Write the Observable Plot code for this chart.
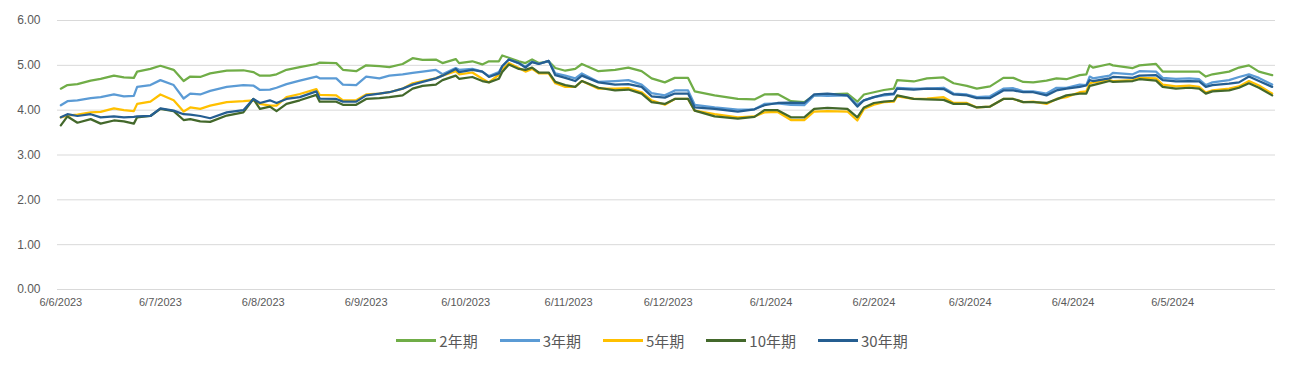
<!DOCTYPE html>
<html>
<head>
<meta charset="utf-8">
<script src="https://cdn.jsdelivr.net/npm/d3@7"></script>
<script src="https://cdn.jsdelivr.net/npm/@observablehq/plot@0.6"></script>
<style>
  html, body { margin: 0; padding: 0; background: #ffffff; }
  #chart svg { display: block; }
  #legend { display: flex; justify-content: center; align-items: center; gap: 22px;
    margin-top: 15px; height: 20px; margin-left: 6px;
    font-family: "Noto Sans CJK SC", "Noto Sans", sans-serif; font-size: 15px; color: #595959; }
  .item { display: flex; align-items: center; }
  .sw { display: inline-block; width: 40px; height: 3px; margin-right: 3px; }
</style>
</head>
<body>
<div id="chart"></div>
<div id="legend"></div>
<script>
const seriesNames = ["2年期", "3年期", "5年期", "10年期", "30年期"];
const seriesColors = ["#70ad47", "#5b9bd5", "#ffc000", "#43682b", "#255e91"];

const dates = [
  "2023-06-06","2023-06-08","2023-06-11","2023-06-15","2023-06-18","2023-06-22","2023-06-25","2023-06-28","2023-06-29",
  "2023-07-03","2023-07-06","2023-07-10","2023-07-13","2023-07-15","2023-07-18","2023-07-21","2023-07-26","2023-07-31",
  "2023-08-03","2023-08-05","2023-08-08","2023-08-10","2023-08-13","2023-08-17","2023-08-22","2023-08-23","2023-08-28","2023-08-30",
  "2023-09-03","2023-09-06","2023-09-10","2023-09-13","2023-09-17","2023-09-20","2023-09-23","2023-09-27","2023-09-29",
  "2023-10-03","2023-10-04","2023-10-08","2023-10-11","2023-10-13","2023-10-16","2023-10-17","2023-10-19","2023-10-22","2023-10-24","2023-10-26","2023-10-28","2023-10-31",
  "2023-11-02","2023-11-05","2023-11-08","2023-11-10","2023-11-15","2023-11-20","2023-11-24","2023-11-28",
  "2023-12-01","2023-12-05","2023-12-08","2023-12-12","2023-12-14","2023-12-20","2023-12-27",
  "2024-01-01","2024-01-04","2024-01-08","2024-01-12","2024-01-16","2024-01-19","2024-01-23","2024-01-29",
  "2024-02-01","2024-02-03","2024-02-06","2024-02-09","2024-02-12","2024-02-13","2024-02-18","2024-02-22","2024-02-27",
  "2024-03-01","2024-03-05","2024-03-08","2024-03-12","2024-03-16","2024-03-19","2024-03-22","2024-03-25","2024-03-29",
  "2024-04-01","2024-04-04","2024-04-08","2024-04-10","2024-04-11","2024-04-12","2024-04-17","2024-04-18","2024-04-24","2024-04-26",
  "2024-05-01","2024-05-03","2024-05-07","2024-05-11","2024-05-14","2024-05-16","2024-05-18","2024-05-23","2024-05-26","2024-05-29",
  "2024-06-01","2024-06-05"
];

const y2 = [
  4.48,4.56,4.58,4.66,4.70,4.77,4.73,4.72,4.86,
  4.92,4.99,4.90,4.65,4.75,4.74,4.82,4.88,4.89,
  4.85,4.77,4.77,4.80,4.90,4.96,5.03,5.06,5.05,4.90,
  4.87,5.00,4.98,4.96,5.03,5.16,5.12,5.13,5.05,
  5.14,5.05,5.09,5.02,5.09,5.09,5.22,5.17,5.09,5.05,5.13,5.05,5.09,
  4.94,4.88,4.92,5.03,4.87,4.90,4.95,4.87,
  4.71,4.62,4.72,4.72,4.42,4.33,4.25,
  4.24,4.35,4.36,4.20,4.18,4.33,4.35,4.37,
  4.19,4.35,4.40,4.45,4.48,4.67,4.64,4.71,4.73,
  4.60,4.54,4.48,4.53,4.72,4.72,4.63,4.62,4.66,
  4.71,4.69,4.78,4.80,5.00,4.95,5.03,5.00,4.94,5.00,
  5.03,4.86,4.86,4.86,4.86,4.75,4.80,4.86,4.95,5.00,
  4.86,4.78
];
const y3 = [
  4.11,4.20,4.22,4.27,4.29,4.35,4.31,4.32,4.52,
  4.56,4.67,4.56,4.26,4.37,4.35,4.43,4.52,4.56,
  4.55,4.45,4.46,4.50,4.58,4.66,4.75,4.71,4.71,4.57,
  4.56,4.75,4.71,4.77,4.80,4.83,4.86,4.90,4.80,
  4.94,4.90,4.92,4.86,4.76,4.85,4.98,5.13,5.05,4.97,5.08,5.03,5.10,
  4.82,4.77,4.71,4.82,4.63,4.65,4.67,4.57,
  4.38,4.33,4.44,4.44,4.12,4.06,4.01,
  4.02,4.14,4.15,4.12,4.11,4.33,4.32,4.33,
  4.12,4.22,4.29,4.33,4.35,4.50,4.48,4.48,4.50,
  4.37,4.35,4.29,4.31,4.48,4.49,4.42,4.42,4.37,
  4.50,4.50,4.57,4.56,4.75,4.71,4.77,4.83,4.80,4.87,
  4.86,4.72,4.70,4.71,4.69,4.56,4.62,4.67,4.74,4.80,
  4.72,4.57
];
const y5 = [
  3.84,3.88,3.90,3.95,3.96,4.04,4.00,3.98,4.14,
  4.19,4.35,4.22,3.97,4.06,4.03,4.10,4.18,4.20,
  4.22,4.14,4.10,4.10,4.29,4.36,4.47,4.34,4.33,4.22,
  4.22,4.35,4.37,4.40,4.48,4.60,4.65,4.71,4.77,
  4.87,4.80,4.84,4.70,4.62,4.79,4.90,5.05,4.94,4.86,4.92,4.82,4.82,
  4.60,4.52,4.52,4.65,4.48,4.48,4.49,4.40,
  4.22,4.12,4.25,4.25,3.99,3.91,3.84,
  3.86,3.95,3.96,3.78,3.78,3.97,3.98,3.97,
  3.77,4.03,4.12,4.18,4.19,4.31,4.25,4.26,4.29,
  4.16,4.16,4.06,4.08,4.25,4.25,4.18,4.19,4.14,
  4.25,4.29,4.40,4.42,4.60,4.62,4.67,4.65,4.67,4.72,
  4.71,4.57,4.53,4.55,4.52,4.39,4.44,4.48,4.53,4.65,
  4.55,4.37
];
const y10 = [
  3.66,3.86,3.72,3.80,3.70,3.77,3.75,3.70,3.84,
  3.87,4.03,3.98,3.78,3.80,3.75,3.74,3.88,3.95,
  4.25,4.03,4.08,3.98,4.14,4.22,4.34,4.19,4.19,4.12,
  4.12,4.25,4.27,4.29,4.33,4.48,4.54,4.57,4.67,
  4.77,4.70,4.74,4.65,4.62,4.70,4.85,5.02,4.92,4.90,4.95,4.84,4.84,
  4.63,4.56,4.52,4.65,4.50,4.44,4.46,4.37,
  4.18,4.14,4.25,4.25,3.99,3.86,3.81,
  3.85,4.00,4.00,3.84,3.84,4.03,4.05,4.03,
  3.84,4.06,4.16,4.19,4.21,4.33,4.25,4.24,4.23,
  4.14,4.14,4.06,4.08,4.25,4.25,4.18,4.18,4.16,
  4.24,4.33,4.37,4.37,4.54,4.56,4.65,4.63,4.65,4.69,
  4.66,4.52,4.48,4.50,4.48,4.37,4.42,4.44,4.50,4.60,
  4.50,4.33
];
const y30 = [
  3.84,3.91,3.87,3.91,3.84,3.86,3.84,3.85,3.86,
  3.87,4.04,3.99,3.91,3.90,3.87,3.82,3.95,4.00,
  4.25,4.16,4.22,4.16,4.25,4.29,4.42,4.26,4.25,4.19,
  4.19,4.33,4.37,4.40,4.48,4.57,4.63,4.71,4.77,
  4.92,4.85,4.90,4.86,4.74,4.82,4.98,5.13,5.05,4.95,5.07,5.03,5.10,
  4.78,4.72,4.65,4.77,4.62,4.57,4.58,4.52,
  4.31,4.28,4.37,4.37,4.06,4.03,3.97,
  4.02,4.11,4.16,4.17,4.16,4.35,4.37,4.33,
  4.08,4.22,4.29,4.35,4.37,4.48,4.46,4.48,4.47,
  4.35,4.33,4.27,4.27,4.44,4.44,4.40,4.40,4.33,
  4.44,4.48,4.52,4.55,4.67,4.65,4.71,4.74,4.72,4.77,
  4.78,4.67,4.64,4.65,4.64,4.52,4.56,4.59,4.62,4.75,
  4.65,4.52
];

const tickDateStrings = ["2023-06-06","2023-07-06","2023-08-06","2023-09-06","2023-10-06","2023-11-06","2023-12-06",
  "2024-01-06","2024-02-06","2024-03-06","2024-04-06","2024-05-06"];
const tickLabels = ["6/6/2023","6/7/2023","6/8/2023","6/9/2023","6/10/2023","6/11/2023","6/12/2023",
  "6/1/2024","6/2/2024","6/3/2024","6/4/2024","6/5/2024"];
const yTicks = [0, 1, 2, 3, 4, 5, 6];

const seriesValues = [y2, y3, y5, y10, y30];
const rows = [];
seriesValues.forEach((vals, s) => {
  vals.forEach((v, i) => rows.push({date: new Date(dates[i]), value: v, series: seriesNames[s]}));
});
const tickDates = tickDateStrings.map(d => new Date(d));
const labelFor = new Map(tickDates.map((d, i) => [+d, tickLabels[i]]));

const chart = Plot.plot({
  width: 1298,
  height: 315,
  marginLeft: 57,
  marginRight: 23,
  marginTop: 20,
  marginBottom: 26,
  style: {fontFamily: "'Liberation Sans', 'Noto Sans', sans-serif", background: "#ffffff"},
  x: {type: "utc", domain: [new Date("2023-06-05"), new Date("2024-06-06")]},
  y: {domain: [0, 6]},
  color: {domain: seriesNames, range: seriesColors},
  marks: [
    Plot.gridY(yTicks, {stroke: "#d9d9d9", strokeOpacity: 1, strokeWidth: 1}),
    Plot.axisY(yTicks, {tickSize: 0, tickPadding: 17, tickFormat: d => d.toFixed(2), fontSize: 12, fill: "#595959", label: null}),
    Plot.axisX(tickDates, {tickSize: 0, tickPadding: 9, tickFormat: d => labelFor.get(+d), fontSize: 11, fill: "#595959", label: null}),
    Plot.lineY(rows, {x: "date", y: "value", z: "series", stroke: "series", strokeWidth: 2.25, curve: "linear"})
  ]
});
document.getElementById("chart").appendChild(chart);

const legend = document.getElementById("legend");
seriesNames.forEach((name, i) => {
  const item = document.createElement("div");
  item.className = "item";
  const sw = document.createElement("span");
  sw.className = "sw";
  sw.style.background = seriesColors[i];
  const label = document.createElement("span");
  label.textContent = name;
  item.appendChild(sw);
  item.appendChild(label);
  legend.appendChild(item);
});
</script>
</body>
</html>
